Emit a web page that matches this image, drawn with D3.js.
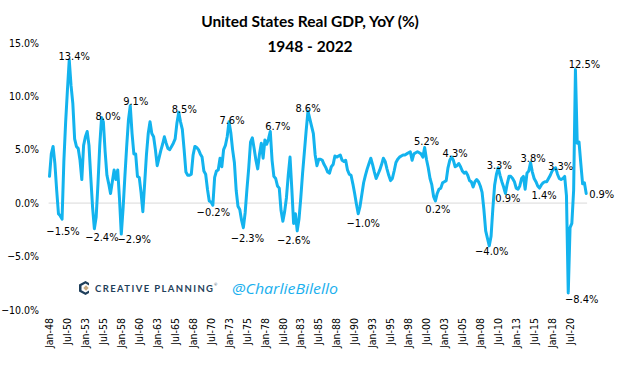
<!DOCTYPE html>
<html><head><meta charset="utf-8">
<script src="https://cdn.jsdelivr.net/npm/d3@7"></script>
<style>body{margin:0;background:#fff;} svg{display:block;}</style>
</head><body>
<svg id="chart" width="623" height="368"></svg>
<script>
// ---------- DATA (US real GDP, % change from a year ago, quarterly) ----------
const startYear = 1948;
const gdp1948_1959 = [
  2.5, 4.6, 5.3, 3.7,   1.2, -1.0, -1.2, -1.5,   3.9, 7.6, 10.6, 13.4,
  11.0, 9.3, 6.0, 5.3,  5.1, 4.0, 2.2, 5.4,      6.2, 6.7, 5.4, 2.4,
  -0.4, -2.4, -1.3, 1.8, 5.4, 8.0, 7.6, 4.8,     2.6, 1.8, 0.9, 2.0,
  3.1, 2.2, 3.1, 0.4,   -2.9, -0.5, 2.5, 5.3,    7.8, 9.1, 6.5, 4.6
];
const gdp1960s = [
  4.6, 2.5, 2.4, 1.0,   -0.8, 1.8, 4.5, 6.5,   7.6, 6.5, 6.2, 5.0,
  3.5, 4.2, 4.9, 5.5,   6.2, 5.6, 5.1, 5.0,    5.3, 5.6, 6.0, 7.5,
  8.5, 7.6, 6.9, 5.0,   2.9, 2.6, 2.6, 2.7,    4.5, 5.3, 5.2, 5.0,
  4.6, 4.3, 3.0, 2.7
];
const gdp1970s = [
  1.3, 0.2, 0.1, -0.2,  2.4, 3.0, 3.1, 4.2,    3.4, 5.0, 5.4, 6.2,
  7.6, 6.6, 5.0, 3.8,   1.2, -0.3, -0.6, -1.6, -2.3, -0.9, 1.3, 3.3,
  5.7, 6.1, 5.1, 4.0,   3.2, 4.6, 5.6, 4.2,    5.9, 5.5, 6.0, 6.7,
  4.0, 2.5, 2.3, 1.6
];
const gdp1980s = [
  1.4, -0.7, -1.7, -0.8, 0.5, 2.6, 4.3, 1.3,   -1.9, -1.0, -2.6, -1.5,
  0.5, 2.8, 4.8, 6.8,   8.6, 7.9, 7.2, 6.5,    4.5, 3.5, 4.1, 4.1,
  4.0, 3.6, 3.3, 2.9,   2.8, 3.4, 3.6, 4.4,    4.3, 4.4, 4.5, 4.0,
  3.9, 4.0, 3.1, 2.7
];
const gdp1990s = [
  2.6, 1.8, 0.9, -0.1,  -1.0, -0.3, 0.8, 1.9,  2.6, 3.2, 3.7, 4.2,
  3.6, 2.9, 2.3, 2.7,   3.1, 3.6, 4.2, 3.9,    3.2, 2.6, 2.1, 2.3,
  3.0, 3.8, 4.1, 4.3,   4.4, 4.5, 4.5, 4.6,    4.7, 4.8, 4.0, 4.6,
  4.7, 4.8, 4.7, 4.6
];
const gdp2000s = [
  4.3, 5.2, 4.1, 3.3,   2.3, 1.7, 0.6, 0.2,    0.9, 1.3, 1.4, 1.9,
  2.0, 2.1, 3.3, 4.0,   4.3, 4.0, 3.4, 3.5,    3.7, 3.4, 3.0, 2.8,
  2.9, 2.6, 2.1, 2.0,   1.5, 2.0, 2.2, 2.0,    1.6, 1.0, -0.6, -2.6,
  -3.3, -4.0, -3.1, -0.5
];
const gdp2010s = [
  1.7, 2.7, 3.3, 2.6,   2.0, 1.5, 0.9, 1.8,    2.5, 2.5, 2.3, 2.0,
  1.4, 1.3, 1.6, 2.3,   2.5, 1.3, 2.8, 3.0,    3.8, 2.9, 2.3, 2.0,
  1.6, 1.4, 1.7, 1.9,   2.0, 2.0, 2.3, 2.6,    3.0, 3.2, 3.3, 2.7,
  2.3, 2.2, 2.3, 2.5
];
const gdp2020s = [
  0.7, -8.4, -2.3, -1.9, 1.2, 12.5, 5.6, 5.7,  3.7, 1.8, 1.9, 0.9
];

const quarterMonths = ["Jan", "Apr", "Jul", "Oct"];
const yTicks = [-10, -5, 0, 5, 10, 15];
const tickLabels = ["Jan-48","Jul-50","Jan-53","Jul-55","Jan-58","Jul-60","Jan-63","Jul-65",
  "Jan-68","Jul-70","Jan-73","Jul-75","Jan-78","Jul-80","Jan-83","Jul-85","Jan-88","Jul-90",
  "Jan-93","Jul-95","Jan-98","Jul-00","Jan-03","Jul-05","Jan-08","Jul-10","Jan-13","Jul-15",
  "Jan-18","Jul-20"];
// categories (index) carrying a data label
const labelledPoints = [11, 7, 29, 25, 40, 45, 72, 91, 100, 108, 123, 138, 144, 172,
  209, 215, 224, 245, 250, 254, 268, 273, 282, 289, 293, 299];

// ---------- LAYOUT (positions / styles, kept apart from data) ----------
const labelOffsets = [[5,-3],[1,12.5],[6.5,-1.5],[7.5,9],[13,5.5],[5.5,-4.5],[5.5,-3],[0.5,7.5],
  [3,-1.5],[4,10.5],[7.5,-4.5],[-3.5,10],[0,-2.5],[5,9.5],[2,-5.5],[2.5,9],[3.5,-3.5],[2.5,6],
  [1,-2.5],[2.5,5],[2.5,-4],[4.5,7.5],[5,-1.5],[13.5,7],[9,-5],[15.5,1.5]];
const lineColor = "#13b3ee";
const textFont = "'DejaVu Sans Condensed', 'Liberation Sans', sans-serif";

const values = [].concat(gdp1948_1959, gdp1960s, gdp1970s, gdp1980s, gdp1990s, gdp2000s, gdp2010s, gdp2020s);
const categories = values.map((_, i) =>
  quarterMonths[i % 4] + "-" + String((startYear + Math.floor(i / 4)) % 100).padStart(2, "0"));

const svg = d3.select("#chart");
const x = d3.scaleBand().domain(categories).range([48.6, 587.1]).padding(0);
const cx = c => x(c) + x.bandwidth() / 2;
const y = d3.scaleLinear().domain([-10, 15]).range([310, 42.7]);

// title
svg.append("text").attr("x", 310).attr("y", 21).attr("text-anchor", "middle")
  .attr("dominant-baseline", "central")
  .style("font-family", "Lato, 'Open Sans', sans-serif").style("font-weight", "bold")
  .style("font-size", "15.5px").attr("fill", "#000").text("United States Real GDP, YoY (%)");
svg.append("text").attr("x", 310).attr("y", 45.5).attr("text-anchor", "middle")
  .attr("dominant-baseline", "central")
  .style("font-family", "Lato, 'Open Sans', sans-serif").style("font-weight", "bold")
  .style("font-size", "15.5px").attr("fill", "#000").text("1948 - 2022");

// y axis
const yAxis = svg.append("g").attr("transform", "translate(48.6,0)")
  .call(d3.axisLeft(y).tickValues(yTicks).tickSize(0).tickPadding(9.5)
    .tickFormat(d => d3.format(".1f")(d) + "%"));
yAxis.select(".domain").remove();
yAxis.selectAll("text").style("font-family", textFont).style("font-size", "10.5px").attr("fill", "#000");

// zero line
svg.append("line").attr("x1", 48.6).attr("x2", 587.1).attr("y1", y(0)).attr("y2", y(0))
  .attr("stroke", "#d9d9d9").attr("stroke-width", 1);

// x axis
const xAxis = svg.append("g").attr("transform", "translate(0,310)")
  .call(d3.axisBottom(x).tickValues(tickLabels).tickSize(0));
xAxis.select(".domain").remove();
xAxis.selectAll("text").attr("transform", "rotate(-90)").attr("text-anchor", "end")
  .attr("x", -8).attr("y", 0).attr("dy", "0.35em")
  .style("font-family", textFont).style("font-size", "10.5px").attr("fill", "#000");

// line
svg.append("path").datum(values)
  .attr("fill", "none").attr("stroke", lineColor).attr("stroke-width", 3)
  .attr("stroke-linejoin", "round").attr("stroke-linecap", "round")
  .attr("d", d3.line().x((d, i) => cx(categories[i])).y(d => y(d)));

// data labels
svg.append("g").selectAll("text").data(labelledPoints).join("text")
  .attr("x", (idx, k) => cx(categories[idx]) + labelOffsets[k][0])
  .attr("y", (idx, k) => y(values[idx]) + labelOffsets[k][1])
  .attr("text-anchor", "middle").attr("dominant-baseline", "central")
  .style("font-family", textFont).style("font-size", "11px").attr("fill", "#000")
  .text(idx => d3.format(".1f")(values[idx]) + "%");

// watermark / logo
const logo = svg.append("g");
logo.append("path")
  .attr("d", "M89,283 L85.5,281 L79,284.5 L79,291.5 L85.5,295 L89,293 L89,290.5 L85.5,292.5 L81.5,290.3 L81.5,285.7 L85.5,283.5 L89,285.5 Z")
  .attr("fill", "#1f3f5b");
logo.append("path").attr("d", "M86,285.3 L88.7,288 L86,290.7 L83.3,288 Z").attr("fill", "#c9ab82");
logo.append("text").attr("x", 95).attr("y", 288.5).attr("dominant-baseline", "central")
  .attr("textLength", 118).attr("lengthAdjust", "spacing")
  .style("font-family", "Lato, 'Open Sans', sans-serif").style("font-weight", "bold")
  .style("font-size", "9.5px").attr("fill", "#1f3f5b").text("CREATIVE PLANNING");
logo.append("text").attr("x", 214).attr("y", 284).attr("dominant-baseline", "central")
  .style("font-family", "Lato, sans-serif").style("font-size", "4px").attr("fill", "#1f3f5b").text("®");
logo.append("text").attr("x", 232).attr("y", 288).attr("dominant-baseline", "central")
  .attr("textLength", 106).attr("lengthAdjust", "spacingAndGlyphs")
  .style("font-family", "'Open Sans', sans-serif").style("font-style", "italic")
  .style("font-size", "15px").attr("fill", "#1ab0ee").text("@CharlieBilello");
</script>
</body></html>
